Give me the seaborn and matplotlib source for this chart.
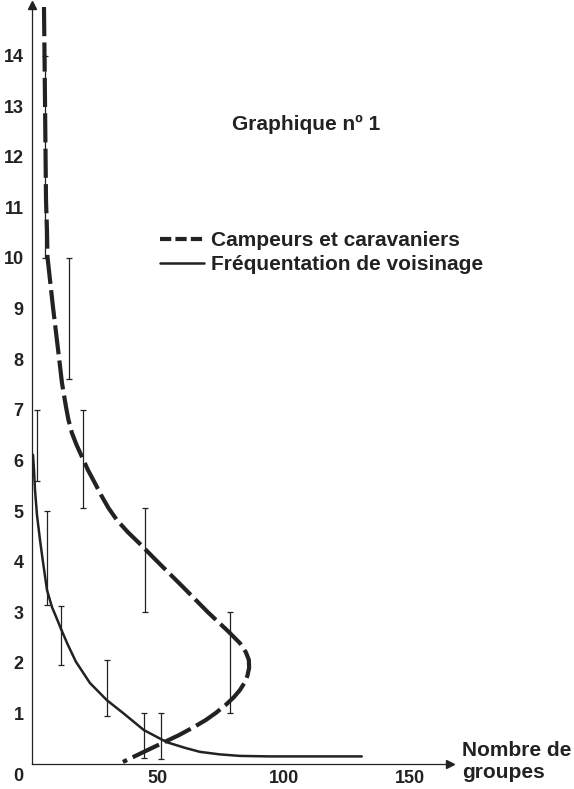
import matplotlib
matplotlib.use("Agg")
import matplotlib.pyplot as plt
import seaborn as sns
import numpy as np
from matplotlib.lines import Line2D

# ---- data ----
camp_x = [4.76, 5.16, 5.56, 5.95, 6.15, 8.33, 10.71, 11.90, 13.49, 14.48, 15.87, 17.66,
          19.84, 22.22, 25.0, 27.38, 30.36, 33.73, 38.10, 42.46, 49.21, 59.92,
          69.84, 78.17, 82.54, 84.92, 86.11, 86.23, 85.52, 84.33, 82.54, 80.16,
          76.98, 73.02, 69.05, 64.29, 58.33, 51.98, 44.44, 36.11]
camp_y = [14.96, 13.12, 11.15, 10.55, 10.02, 9.03, 8.04, 7.53, 7.06, 6.80, 6.54, 6.31,
          6.07, 5.81, 5.55, 5.32, 5.06, 4.82, 4.58, 4.37, 4.03, 3.50,
          3.00, 2.61, 2.39, 2.21, 2.06, 1.90, 1.74, 1.60, 1.46, 1.32,
          1.17, 1.01, 0.87, 0.73, 0.57, 0.42, 0.24, 0.04]

voisin_x = [0.40, 0.79, 1.19, 1.98, 3.17, 4.37, 5.95, 7.94, 9.72, 11.51, 14.29, 17.46,
            23.02, 29.76, 36.11, 44.44, 53.57, 60.71, 66.67, 74.60, 82.54, 94.44,
            130.95]
voisin_y = [6.11, 5.81, 5.42, 4.92, 4.43, 3.99, 3.44, 3.10, 2.89, 2.67, 2.35, 2.02,
            1.60, 1.26, 1.01, 0.67, 0.43, 0.32, 0.24, 0.19, 0.16, 0.15,
            0.15]

err_x = [2.0, 6.1, 11.4, 29.6, 44.4, 51.2, 44.8, 78.8, 20.1, 14.7, 5.2]
err_lo = [5.6, 3.15, 1.96, 0.95, 0.12, 0.1, 3.0, 1.0, 5.05, 7.6, 10.0]
err_hi = [7.0, 5.0, 3.12, 2.05, 1.0, 1.0, 5.05, 3.0, 7.0, 10.0, 14.0]

y_ticks = list(range(1, 15))
x_ticks = [50, 100, 150]
x_minor = list(range(10, 160, 10))

title = "Graphique nº 1"
label_camp = "Campeurs et caravaniers"
label_vois = "Fréquentation de voisinage"
xlabel_lines = ["Nombre de", "groupes"]

# ---- style ----
sns.set_style("white")
plt.rcParams['font.family'] = ['Liberation Sans', 'DejaVu Sans']
plt.rcParams['font.weight'] = 'bold'
ink = "#222222"

fig = plt.figure(figsize=(5.74, 7.89), dpi=100)
ax = fig.add_axes([32 / 574, 1 - 764 / 789, 418 / 574, 759 / 789])
ax.set_xlim(0, 166)
ax.set_ylim(0, 15)

# error bars
lo = np.array(err_lo); hi = np.array(err_hi)
ax.errorbar(err_x, (lo + hi) / 2, yerr=(hi - lo) / 2, fmt='none', ecolor=ink,
            elinewidth=0.9, capsize=2.2, capthick=0.9, zorder=2)

sns.lineplot(x=camp_x, y=camp_y, sort=False, estimator=None, ax=ax, color=ink,
             linewidth=3.0, zorder=3)
ax.lines[-1].set_dashes((7.0, 1.5))
ax.lines[-1].set_solid_joinstyle('round')
sns.lineplot(x=voisin_x, y=voisin_y, sort=False, estimator=None, ax=ax, color=ink,
             linewidth=1.8, zorder=3)

# spines & ticks
for s in ["top", "right"]:
    ax.spines[s].set_visible(False)
for s in ["left", "bottom"]:
    ax.spines[s].set_color(ink)
    ax.spines[s].set_linewidth(0.9)

ax.set_yticks(y_ticks)
ax.set_yticklabels([str(t) for t in y_ticks])
ax.set_xticks(x_ticks)
ax.set_xticklabels([str(t) for t in x_ticks])
ax.set_xticks(x_minor, minor=True)
ax.tick_params(axis='y', direction='out', length=3, width=0.9, color=ink,
               labelsize=13, pad=3, labelcolor=ink)
ax.tick_params(axis='x', which='major', direction='out', length=3, width=0.9,
               color=ink, labelsize=13, pad=1, labelcolor=ink)
ax.tick_params(axis='x', which='minor', direction='out', length=3, width=0.8,
               color=ink)
for lab in ax.get_xticklabels() + ax.get_yticklabels():
    lab.set_fontweight('bold')
ax.text(-0.033, -0.016, "0", transform=ax.transAxes, ha='center', va='center',
        fontsize=13, fontweight='bold', color=ink, clip_on=False)

# arrowheads
ax.plot([0], [1.0], marker='^', markersize=6, color=ink, transform=ax.transAxes,
        clip_on=False)
ax.plot([1.0], [0], marker='>', markersize=6, color=ink, transform=ax.transAxes,
        clip_on=False)

# texts
fig.text(306 / 574, 1 - 124 / 789, title, ha='center', va='center', fontsize=15,
         fontweight='bold', color=ink)
fig.text(462 / 574, 1 - 751 / 789, xlabel_lines[0], ha='left', va='center',
         fontsize=15, fontweight='bold', color=ink)
fig.text(462 / 574, 1 - 773 / 789, xlabel_lines[1], ha='left', va='center',
         fontsize=15, fontweight='bold', color=ink)

handles = [Line2D([], [], color=ink, linewidth=3.0, dashes=(2.7, 1.0)),
           Line2D([], [], color=ink, linewidth=1.8)]
fig.legend(handles, [label_camp, label_vois], loc='upper left',
           bbox_to_anchor=(160 / 574, 1 - 231 / 789), frameon=False,
           prop={'size': 15, 'weight': 'bold'}, handlelength=2.1,
           handletextpad=0.35, labelspacing=0.25, borderpad=0, borderaxespad=0,
           labelcolor=ink)

fig.savefig("out.png", dpi=100, facecolor="white")
